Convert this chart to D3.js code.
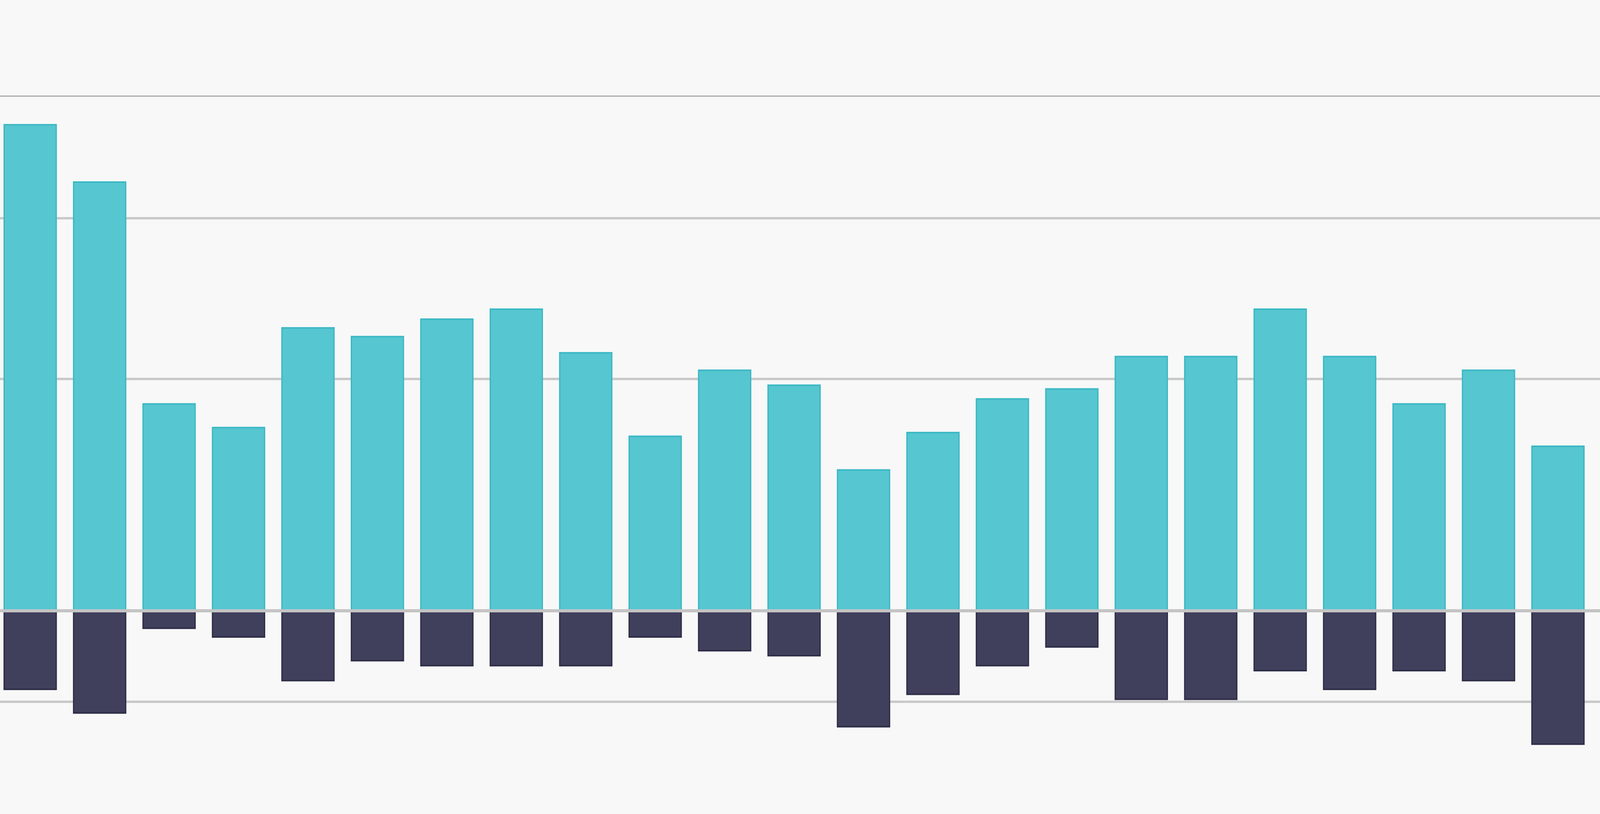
<!DOCTYPE html>
<html lang="en">
<head>
<meta charset="utf-8">
<title>Bars</title>
<script src="https://cdn.jsdelivr.net/npm/d3@7"></script>
<style>
  html, body { margin: 0; padding: 0; background: #f8f8f8; overflow: hidden; }
  svg { display: block; width: 100vw; height: 100vh; }
</style>
</head>
<body>
<script>
var w = 5000, h = 2083;
// values (arbitrary units)
var categories = d3.range(1, 24).map(String);
var upValues = [390, 344, 166, 147, 227, 220, 234, 242, 207, 140, 193, 181, 113, 143, 170, 178, 204, 204, 242, 204, 166, 193, 132];
var downValues = [-63, -82, -14, -21, -56, -40, -44, -44, -44, -21, -32, -36, -93, -67, -44, -29, -71, -71, -48, -63, -48, -56, -107];
var gridValues = [-73, 186, 315, 413];

var svg = d3.select("body").append("svg")
  .attr("viewBox", "0 0 " + w + " " + h)
  .attr("preserveAspectRatio", "none");

svg.append("rect").attr("width", w).attr("height", h).attr("fill", "#f8f8f8");

var x = d3.scaleBand().domain(categories).range([13, 4950]).paddingInner(0.25).paddingOuter(0);
var y = d3.scaleLinear().domain([0, 100]).range([1563, 1563 - 318.9]);

// gridlines
svg.selectAll("line.grid").data(gridValues).enter().append("line")
  .attr("x1", 0).attr("x2", w)
  .attr("y1", function(d){ return y(d); })
  .attr("y2", function(d){ return y(d); })
  .attr("stroke", function(d){ return d === 413 ? "#a8a8a8" : "#c8c8c8"; })
  .attr("stroke-width", function(d){ return d === 413 ? 3 : 6; });

svg.selectAll("rect.up").data(upValues).enter().append("rect")
  .attr("x", function(d, i){ return x(categories[i]); })
  .attr("y", function(d){ return y(d); })
  .attr("width", x.bandwidth())
  .attr("height", function(d){ return y(0) - y(d); })
  .attr("fill", "#56c6d0")
  .attr("stroke", "#3bb8c4").attr("stroke-width", 4);

svg.selectAll("rect.down").data(downValues).enter().append("rect")
  .attr("x", function(d, i){ return x(categories[i]); })
  .attr("y", y(0))
  .attr("width", x.bandwidth())
  .attr("height", function(d){ return y(d) - y(0); })
  .attr("fill", "#40405c")
  .attr("stroke", "#2e2e48").attr("stroke-width", 4);

// zero line
svg.append("line")
  .attr("x1", 0).attr("x2", w)
  .attr("y1", y(0)).attr("y2", y(0))
  .attr("stroke", "#c4c4c4").attr("stroke-width", 8);
</script>
</body>
</html>
